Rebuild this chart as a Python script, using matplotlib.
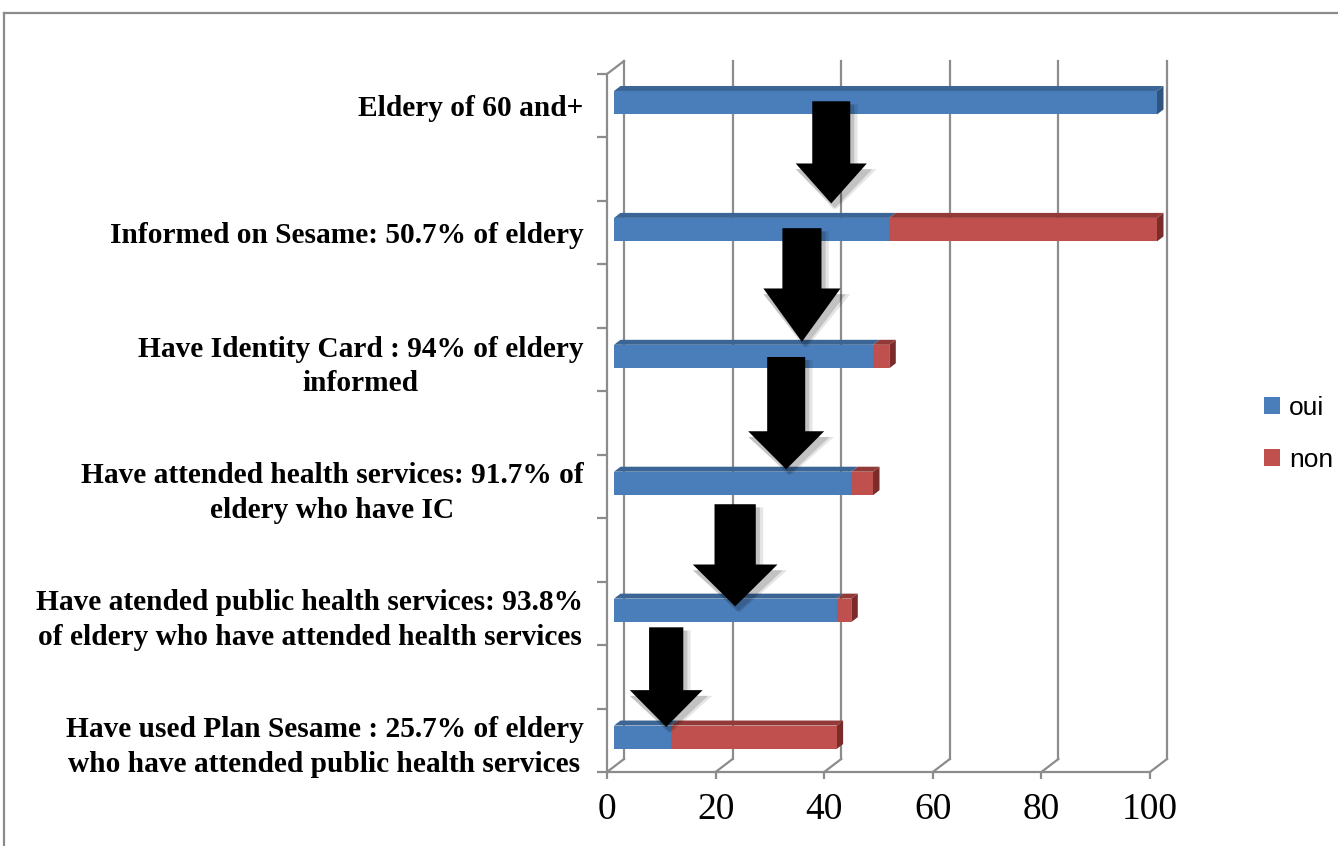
import matplotlib
matplotlib.use("Agg")
import matplotlib.pyplot as plt
from matplotlib.patches import Polygon, FancyArrow, Patch
from matplotlib.lines import Line2D

# Data (percent of all elderly)
categories = [
    "Eldery of 60 and+",
    "Informed on Sesame: 50.7% of eldery",
    "Have Identity Card : 94% of eldery\ninformed",
    "Have attended health services: 91.7% of\neldery who have IC",
    "Have atended public health services: 93.8%\nof eldery who have attended health services",
    "Have used Plan Sesame : 25.7% of eldery\nwho have attended public health services",
]
oui = [100.0, 50.7, 47.7, 43.7, 41.0, 10.5]
non = [0.0, 49.3, 3.0, 4.0, 2.7, 30.5]
series_names = ["oui", "non"]
xticks = [0, 20, 40, 60, 80, 100]

# arrows between steps: (x centre, y top, y tip, shaft width, head width, head length)
arrows = [
    (41.3, -0.07, 1.54, 7.0, 13.1, 0.63),
    (35.9, 1.93, 3.72, 7.2, 14.2, 0.84),
    (33.0, 3.96, 5.73, 7.0, 14.0, 0.60),
    (23.6, 6.28, 7.89, 7.6, 15.6, 0.66),
    (10.9, 8.22, 9.79, 6.3, 13.4, 0.58),
]

W, H = 1338, 846
fig = plt.figure(figsize=(W / 100, H / 100), dpi=100)
ax = fig.add_axes([607 / W, 74 / H, 543 / W, 698 / H])
ax.set_xlim(0, 100)
ax.set_ylim(10.5, -0.5)

px_x = 543 / 100          # pixels per x unit
px_y = 698 / 11           # pixels per y unit
wall_dx, wall_dy = 17 / px_x, 13 / px_y      # depth of the 3D box
bar_dx, bar_dy = 7 / px_x, 3 / px_y          # bar front offset
dep_dx, dep_dy = 6.5 / px_x, 5 / px_y        # bar depth
bar_h = 0.37

grid_c = "#8c8c8c"
blue = ("#4a7ebb", "#3b6595", "#2f5480")
red = ("#c0504d", "#933a38", "#7a2c2a")

# 3D box: back wall gridlines, floor diagonals, left wall
for t in xticks:
    ax.plot([t + wall_dx, t + wall_dx], [10.5 - wall_dy, -0.5 - wall_dy],
            color=grid_c, lw=1.6, clip_on=False, zorder=1)
    ax.plot([t, t + wall_dx], [10.5, 10.5 - wall_dy],
            color=grid_c, lw=1.6, clip_on=False, zorder=1)
ax.plot([0, wall_dx], [-0.5, -0.5 - wall_dy], color=grid_c, lw=1.6,
        clip_on=False, zorder=1)

# stacked 3D bars
for i, cat in enumerate(categories):
    y = 2 * i - bar_dy
    yt, yb = y - bar_h / 2, y + bar_h / 2
    left = bar_dx
    segs = [(oui[i], blue), (non[i], red)]
    last = max(k for k, (v, _) in enumerate(segs) if v > 0)
    for k, (v, cols) in enumerate(segs):
        if v <= 0:
            continue
        r = left + v
        if k == last:
            ax.add_patch(Polygon([(r, yt), (r + dep_dx, yt - dep_dy),
                                  (r + dep_dx, yb - dep_dy), (r, yb)],
                                 closed=True, facecolor=cols[2], lw=0,
                                 zorder=3, clip_on=False))
        ax.add_patch(Polygon([(left, yt), (r, yt), (r + dep_dx, yt - dep_dy),
                              (left + dep_dx, yt - dep_dy)],
                             closed=True, facecolor=cols[1], lw=0,
                             zorder=3, clip_on=False))
        ax.barh(y, v, left=left, height=bar_h, color=cols[0], lw=0,
                zorder=4, clip_on=False)
        left = r

# black arrows with a soft shadow
for (x, y0, y1, sw, hw, hl) in arrows:
    for s, a in [(0.9, 0.10), (0.5, 0.15)]:
        ax.add_patch(FancyArrow(x + s, y0 + 0.05, 0, y1 - y0 + 0.04, width=sw + s,
                                head_width=hw + 2 * s, head_length=hl,
                                length_includes_head=True, color="black",
                                alpha=a, lw=0, zorder=5))
    ax.add_patch(FancyArrow(x, y0, 0, y1 - y0, width=sw, head_width=hw,
                            head_length=hl, length_includes_head=True,
                            color="black", lw=0, zorder=6))

# axes styling
for s in ["top", "right"]:
    ax.spines[s].set_visible(False)
for s in ["left", "bottom"]:
    ax.spines[s].set_color(grid_c)
    ax.spines[s].set_linewidth(1.6)
    ax.spines[s].set_zorder(2)

ax.set_xticks(xticks)
ax.set_xticklabels([str(t) for t in xticks], fontfamily="Liberation Serif",
                   fontsize=27)
ax.tick_params(axis="x", length=5, width=1.6, color=grid_c, pad=10)

ax.set_yticks([2 * i for i in range(len(categories))])
ax.set_yticklabels(categories, fontfamily="Liberation Serif",
                   fontweight="bold", fontsize=21.2)
for lab in ax.get_yticklabels():
    lab.set_multialignment("center")
    lab.set_linespacing(1.35)
ax.tick_params(axis="y", which="major", length=0, pad=17)
ax.set_yticks([v - 0.5 for v in range(12)], minor=True)
ax.tick_params(axis="y", which="minor", length=7, width=1.6, color=grid_c)

handles = [Patch(facecolor=blue[0], label=series_names[0]),
           Patch(facecolor=red[0], label=series_names[1])]
fig.legend(handles=handles, loc="center left", bbox_to_anchor=(1251 / W, 1 - 434 / H),
           frameon=False, handlelength=0.6, handleheight=0.6, handletextpad=0.35,
           labelspacing=1.05, borderpad=0, prop={"family": "Liberation Sans", "size": 19})

# outer frame (top and left edges visible)
fig.add_artist(Line2D([4 / W, 4 / W], [0, 1 - 13 / H], transform=fig.transFigure,
                      color="#8a8a8a", lw=1.6))
fig.add_artist(Line2D([4 / W, 1], [1 - 13 / H, 1 - 13 / H], transform=fig.transFigure,
                      color="#8a8a8a", lw=1.6))

fig.savefig("out.png", dpi=100)
